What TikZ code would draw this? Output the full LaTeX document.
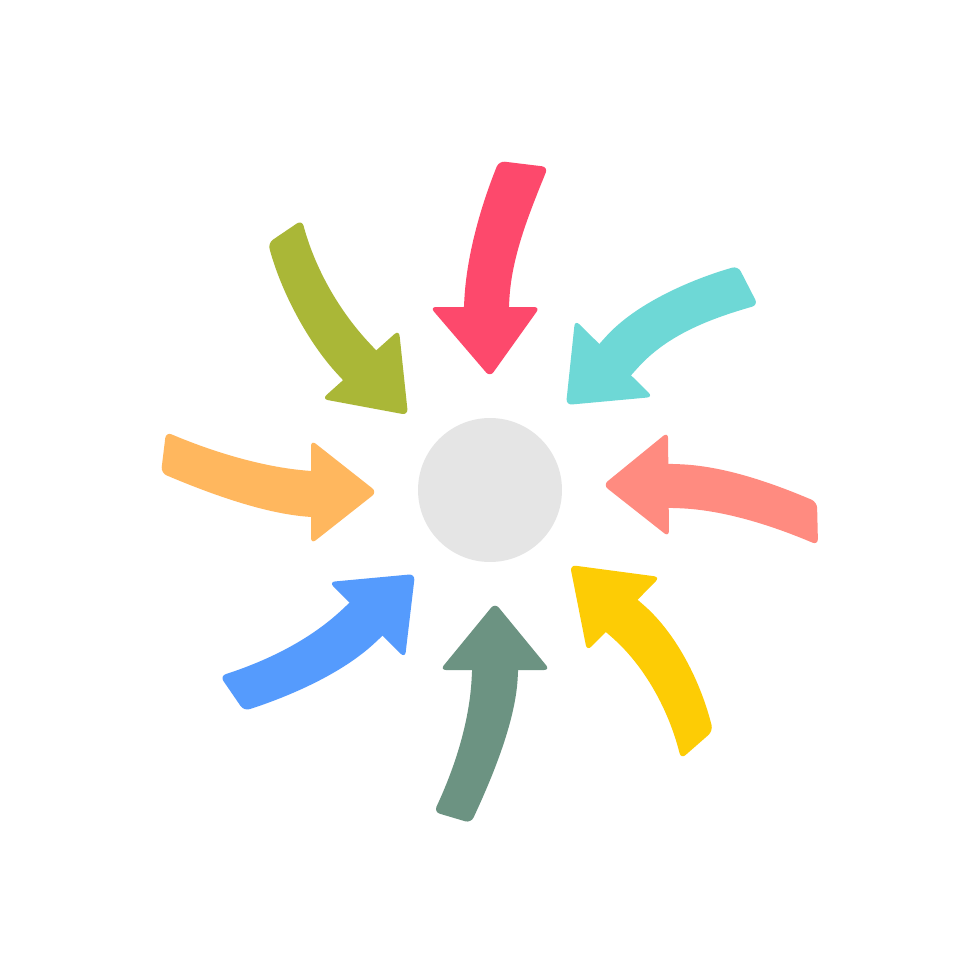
\documentclass[tikz,border=0pt]{standalone}
\usetikzlibrary{calc}
\definecolor{cred}{HTML}{FD496C}
\definecolor{colive}{HTML}{AAB737}
\definecolor{ccyan}{HTML}{6ED8D6}
\definecolor{csalmon}{HTML}{FF8B80}
\definecolor{cyellow}{HTML}{FDCC05}
\definecolor{cgreen}{HTML}{6C9382}
\definecolor{cblue}{HTML}{559BFD}
\definecolor{corange}{HTML}{FFB75E}
\definecolor{chub}{HTML}{E5E5E5}
% #1 colour, #2 tail corner 1, #3 start angle, #4 notch 1, #5 end angle,
% #6 notch 2, #7 tail corner 2, #8 head corner 1, #9 tip ; head corner 2 via \hcb
\newcommand\bandarrow[9]{%
  \fill[arw, #1] (#2) .. controls +(#3:50) and +(#5+180:50) .. (#4)
     -- ($(#4)+(#5:12)$) -- ($(#6)+(#5:12)$) -- (#6)
     .. controls +(#5+180:50) and +(#3:50) .. (#7) -- cycle;
  \fill[arw, #1] (#8) -- (#9) -- (\hcb) -- cycle;
}
\begin{document}
\begin{tikzpicture}[x=0.02cm,y=-0.02cm,
  arw/.style={rounded corners=0.12cm}]
\useasboundingbox (0,0) rectangle (980,980);
\fill[white] (0,0) rectangle (980,980);
\node[circle, fill=chub, minimum size=2.88cm, inner sep=0pt] (hub) at (490,490) {};
% red (top)
\def\hcb{540,307}
\bandarrow{cred}{499,161}{112}{464,306}{93}{509,306}{548,167}{430,307}{490,377}
% olive (top left)
\def\hcb{399,330}
\bandarrow{colive}{268,243}{75}{342,379}{47}{373,347}{302,220}{322,399}{408,415}
% cyan (top right)
\def\hcb{653,397}
\bandarrow{ccyan}{738,266}{164}{602,341}{132}{634,372}{758,305}{575,320}{566,405}
% salmon (right)
\def\hcb{669,537}
\bandarrow{csalmon}{817,502}{203}{673,464}{182}{673,508}{818,545}{668,432}{603,485}
% yellow (bottom right)
\def\hcb{587,651}
\bandarrow{cyellow}{713,731}{256}{639,601}{221}{607,633}{681,759}{660,577}{570,565}
% green (bottom)
\def\hcb{550,670}
\bandarrow{cgreen}{434,812}{295}{472,672}{273}{518,672}{471,823}{440,670}{495,603}
% blue (bottom left)
\def\hcb{405,658}
\bandarrow{cblue}{220,676}{342}{346,606}{317}{379,639}{244,711}{329,582}{415,574}
% orange (left)
\def\hcb{311,544}
\bandarrow{corange}{166,432}{23}{311,471}{5}{311,517}{161,473}{311,440}{377,492}
\end{tikzpicture}
\end{document}
